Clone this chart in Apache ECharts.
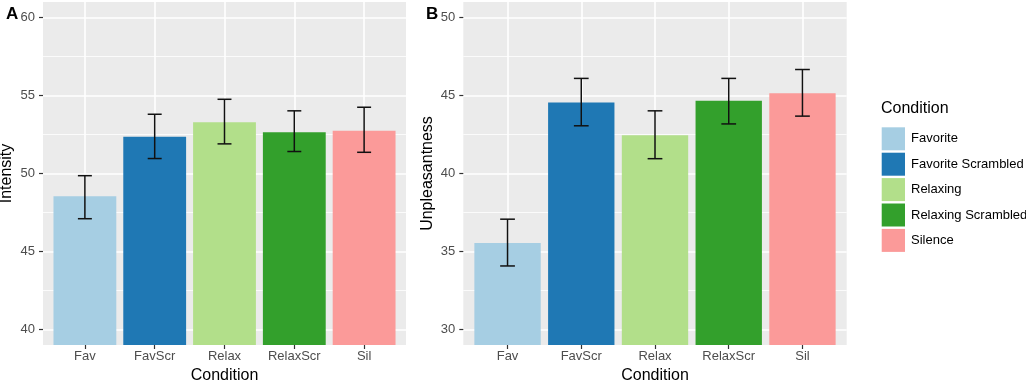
<!DOCTYPE html>
<html>
<head>
<meta charset="utf-8">
<script src="https://cdn.jsdelivr.net/npm/echarts@6/dist/echarts.min.js"></script>
<style>
html,body{margin:0;padding:0;background:#fff;}
#c{width:1026px;height:382px;}
</style>
</head>
<body>
<div id="c"></div>
<script>
const categories = ['Fav', 'FavScr', 'Relax', 'RelaxScr', 'Sil'];
const legendNames = ['Favorite', 'Favorite Scrambled', 'Relaxing', 'Relaxing Scrambled', 'Silence'];
const colors = ['#A6CEE3', '#1F78B4', '#B2DF8A', '#33A02C', '#FB9A99'];
const catPositions = [1, 2, 3, 4, 5];

const intensityMean = [48.54, 52.35, 53.28, 52.64, 52.75];
const intensityLow = [47.10, 50.96, 51.90, 51.41, 51.36];
const intensityHigh = [49.86, 53.80, 54.76, 54.02, 54.25];

const unplMean = [35.55, 44.56, 42.45, 44.66, 45.14];
const unplLow = [34.07, 43.06, 40.95, 43.18, 43.68];
const unplHigh = [37.07, 46.10, 44.02, 46.10, 46.67];

const yTicksA = [40, 45, 50, 55, 60];
const yMinorA = [42.5, 47.5, 52.5, 57.5];
const yTicksB = [30, 35, 40, 45, 50];
const yMinorB = [32.5, 37.5, 42.5, 47.5];

const FONT = 'Liberation Sans, Arial, sans-serif';
const chart = echarts.init(document.getElementById('c'), null, {renderer: 'canvas'});

function xAxisFor(gridIndex) {
  return {
    type: 'value', gridIndex, min: 0.4, max: 5.6,
    name: 'Condition', nameLocation: 'middle', nameGap: 20,
    nameTextStyle: {fontSize: 16, color: '#000', fontFamily: FONT},
    axisLine: {show: false},
    axisTick: {show: true, length: 4, customValues: catPositions, lineStyle: {color: '#333', width: 1.2}},
    axisLabel: {show: true, customValues: catPositions, margin: 5, fontSize: 13, color: '#4D4D4D', fontFamily: FONT,
      formatter: v => categories[Math.round(v) - 1] || ''},
    splitLine: {show: true, lineStyle: {color: '#fff', width: 1.6}},
    minorSplitLine: {show: false}
  };
}
function yAxisMajor(gridIndex, min, max, ticks, name) {
  return {
    type: 'value', gridIndex, min, max, position: 'left',
    name, nameLocation: 'middle', nameGap: 28,
    nameTextStyle: {fontSize: 16, color: '#000', fontFamily: FONT},
    axisLine: {show: false},
    axisTick: {show: true, length: 4, customValues: ticks, lineStyle: {color: '#333', width: 1.2}},
    axisLabel: {show: true, customValues: ticks, margin: 8, fontSize: 13, color: '#4D4D4D', fontFamily: FONT},
    splitLine: {show: true, lineStyle: {color: '#fff', width: 1.6}}
  };
}
function yAxisMinor(gridIndex, min, max, ticks) {
  return {
    type: 'value', gridIndex, min, max, position: 'left',
    axisLine: {show: false},
    axisTick: {show: false, customValues: ticks},
    axisLabel: {show: false},
    splitLine: {show: true, lineStyle: {color: '#fff', width: 0.8}}
  };
}

function barSeries(xi, yi, means) {
  return categories.map((c, i) => ({
    type: 'bar', name: legendNames[i], xAxisIndex: xi, yAxisIndex: yi,
    data: [[catPositions[i], means[i]]],
    barWidth: '90%', barGap: '-100%',
    itemStyle: {color: colors[i]},
    clip: true, silent: true, z: 3
  }));
}
function errSeries(xi, yi, low, high) {
  return {
    type: 'custom', xAxisIndex: xi, yAxisIndex: yi, z: 5, silent: true,
    data: catPositions.map((p, i) => [p, low[i], high[i]]),
    renderItem: function (params, api) {
      const x = api.value(0), lo = api.value(1), hi = api.value(2);
      const pTop = api.coord([x, hi]);
      const pBot = api.coord([x, lo]);
      const lT = api.coord([x - 0.1, hi]), rT = api.coord([x + 0.1, hi]);
      const lB = api.coord([x - 0.1, lo]), rB = api.coord([x + 0.1, lo]);
      const st = {stroke: '#111', lineWidth: 1.5};
      return {type: 'group', children: [
        {type: 'line', shape: {x1: pTop[0], y1: pTop[1], x2: pBot[0], y2: pBot[1]}, style: st},
        {type: 'line', shape: {x1: lT[0], y1: lT[1], x2: rT[0], y2: rT[1]}, style: st},
        {type: 'line', shape: {x1: lB[0], y1: lB[1], x2: rB[0], y2: rB[1]}, style: st}
      ]};
    }
  };
}

const option = {
  backgroundColor: '#fff',
  animation: false,
  title: [
    {text: 'A', left: 1, top: 1, textStyle: {fontSize: 17, fontWeight: 'bold', color: '#000', fontFamily: FONT}},
    {text: 'B', left: 421, top: 1, textStyle: {fontSize: 17, fontWeight: 'bold', color: '#000', fontFamily: FONT}},
    {text: 'Condition', left: 876, top: 96, textStyle: {fontSize: 16, fontWeight: 'normal', color: '#000', fontFamily: FONT}}
  ],
  legend: {
    orient: 'vertical', left: 876.7, top: 122.3,
    itemWidth: 23.3, itemHeight: 23, itemGap: 2.4,
    icon: 'rect',
    data: legendNames,
    textStyle: {fontSize: 13, color: '#000', fontFamily: FONT, padding: [0, 0, 0, 1]},
    selectedMode: false
  },
  grid: [
    {left: 43, top: 2, width: 363, height: 343, show: true, backgroundColor: '#EBEBEB', borderWidth: 0, containLabel: false, outerBoundsMode: 'none'},
    {left: 463.3, top: 2, width: 383.4, height: 343, show: true, backgroundColor: '#EBEBEB', borderWidth: 0, containLabel: false, outerBoundsMode: 'none'}
  ],
  xAxis: [xAxisFor(0), xAxisFor(1)],
  yAxis: [
    yAxisMajor(0, 39, 61, yTicksA, 'Intensity'),
    yAxisMinor(0, 39, 61, yMinorA),
    yAxisMajor(1, 29, 51, yTicksB, 'Unpleasantness'),
    yAxisMinor(1, 29, 51, yMinorB)
  ],
  series: [
    ...barSeries(0, 0, intensityMean),
    errSeries(0, 0, intensityLow, intensityHigh),
    ...barSeries(1, 2, unplMean),
    errSeries(1, 2, unplLow, unplHigh)
  ]
};
chart.setOption(option);
</script>
</body>
</html>
